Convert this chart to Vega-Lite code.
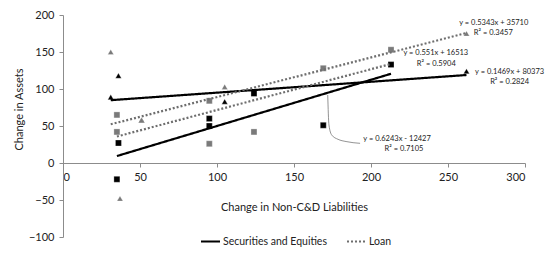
{
  "$schema": "https://vega.github.io/schema/vega-lite/v6.json",
  "width": 462,
  "height": 222,
  "autosize": {"type": "none"},
  "padding": {"left": 63, "top": 15, "right": 23, "bottom": 23},
  "background": "white",
  "config": {
    "view": {"stroke": null},
    "font": "Lato",
    "axis": {"grid": false, "domainColor": "#8c8c8c", "tickColor": "#8c8c8c", "labelColor": "#222", "titleColor": "#222", "labelFont": "Lato", "titleFont": "Lato", "labelFontSize": 11, "titleFontSize": 11, "titleFontWeight": "normal", "tickSize": 4},
    "legend": {"labelFont": "Lato", "labelFontSize": 10.5, "labelColor": "#222"}
  },
  "datasets": {
    "points": [
      {"x": 36, "y": 27, "series": "Securities and Equities", "set": "A"},
      {"x": 35, "y": -22, "series": "Securities and Equities", "set": "A"},
      {"x": 95, "y": 60, "series": "Securities and Equities", "set": "A"},
      {"x": 95, "y": 50, "series": "Securities and Equities", "set": "A"},
      {"x": 124, "y": 94, "series": "Securities and Equities", "set": "A"},
      {"x": 169, "y": 51, "series": "Securities and Equities", "set": "A"},
      {"x": 213, "y": 133, "series": "Securities and Equities", "set": "A"},
      {"x": 36, "y": 118, "series": "Securities and Equities", "set": "B"},
      {"x": 31, "y": 89, "series": "Securities and Equities", "set": "B"},
      {"x": 105, "y": 83, "series": "Securities and Equities", "set": "B"},
      {"x": 262, "y": 124, "series": "Securities and Equities", "set": "B"},
      {"x": 51, "y": 58, "series": "Securities and Equities", "set": "B"},
      {"x": 35, "y": 65, "series": "Loan", "set": "A"},
      {"x": 35, "y": 42, "series": "Loan", "set": "A"},
      {"x": 95, "y": 84, "series": "Loan", "set": "A"},
      {"x": 95, "y": 26, "series": "Loan", "set": "A"},
      {"x": 124, "y": 42, "series": "Loan", "set": "A"},
      {"x": 169, "y": 128, "series": "Loan", "set": "A"},
      {"x": 213, "y": 153, "series": "Loan", "set": "A"},
      {"x": 31, "y": 150, "series": "Loan", "set": "B"},
      {"x": 51, "y": 58, "series": "Loan", "set": "B"},
      {"x": 37, "y": -48, "series": "Loan", "set": "B"},
      {"x": 105, "y": 103, "series": "Loan", "set": "B"},
      {"x": 262, "y": 175, "series": "Loan", "set": "B"}
    ],
    "trends": [
      {"x": 35, "y": 9.4, "type": "Securities and Equities", "id": "SA"},
      {"x": 213, "y": 120.6, "type": "Securities and Equities", "id": "SA"},
      {"x": 31, "y": 84.9, "type": "Securities and Equities", "id": "SB"},
      {"x": 262, "y": 118.9, "type": "Securities and Equities", "id": "SB"},
      {"x": 35, "y": 35.8, "type": "Loan", "id": "LA"},
      {"x": 213, "y": 133.9, "type": "Loan", "id": "LA"},
      {"x": 31, "y": 52.3, "type": "Loan", "id": "LB"},
      {"x": 262, "y": 175.7, "type": "Loan", "id": "LB"}
    ],
    "labels": [
      {"x": 279.7, "y": 189.6, "text": "y = 0.5343x + 35710"},
      {"x": 279.4, "y": 175.3, "text": "R² = 0.3457"},
      {"x": 242.1, "y": 148.2, "text": "y = 0.551x + 16513"},
      {"x": 242.4, "y": 133.8, "text": "R² = 0.5904"},
      {"x": 290, "y": 122.5, "text": "y = 0.1469x + 80373"},
      {"x": 290, "y": 109, "text": "R² = 0.2824"},
      {"x": 216.9, "y": 32, "text": "y = 0.6243x - 12427"},
      {"x": 221.4, "y": 18.9, "text": "R² = 0.7105"}
    ],
    "leader": [
      {"x": 171.9, "y": 91.9, "o": 1},
      {"x": 172.7, "y": 51.4, "o": 2},
      {"x": 174.5, "y": 37.8, "o": 3},
      {"x": 178.6, "y": 32, "o": 4},
      {"x": 183.8, "y": 29, "o": 5},
      {"x": 192.9, "y": 26.6, "o": 6}
    ]
  },
  "encoding": {
    "x": {"field": "x", "type": "quantitative", "scale": {"domain": [0, 300], "nice": false, "zero": false},
      "axis": {"values": [0, 50, 100, 150, 200, 250, 300], "offset": -74, "labelPadding": 4, "labelOverlap": false, "title": "Change in Non-C&D Liabilities", "titlePadding": 19}},
    "y": {"field": "y", "type": "quantitative", "scale": {"domain": [-100, 200], "nice": false, "zero": false},
      "axis": {"values": [-100, -50, 0, 50, 100, 150, 200], "labelPadding": 5, "labelOverlap": false, "title": "Change in Assets", "titleAngle": -90, "titleX": -44, "titleY": 94, "titleAlign": "center", "titleBaseline": "middle"}}
  },
  "layer": [
    {
      "data": {"name": "points"},
      "mark": {"type": "point", "filled": true, "opacity": 1, "size": 36, "stroke": "white", "strokeWidth": 0.3},
      "encoding": {
        "color": {"field": "series", "type": "nominal", "scale": {"domain": ["Securities and Equities", "Loan"], "range": ["#000000", "#7a7a7a"]}, "legend": null},
        "shape": {"field": "set", "type": "nominal", "scale": {"domain": ["A", "B"], "range": ["square", "triangle-up"]}, "legend": null}
      }
    },
    {
      "data": {"name": "trends"},
      "mark": {"type": "line", "strokeWidth": 2.2},
      "encoding": {
        "detail": {"field": "id"},
        "color": {"field": "type", "type": "nominal", "scale": {"domain": ["Securities and Equities", "Loan"], "range": ["#000000", "#6e6e6e"]},
          "legend": {"orient": "none", "direction": "horizontal", "legendX": 137, "legendY": 216, "title": null, "symbolType": "stroke", "symbolSize": 361, "symbolStrokeWidth": 2, "columnPadding": 16, "labelOffset": 2,
            "encode": {"symbols": {"update": {"strokeDash": {"signal": "datum.value === 'Loan' ? [2, 2] : [1, 0]"}}}}}},
        "strokeDash": {"field": "type", "type": "nominal", "scale": {"domain": ["Securities and Equities", "Loan"], "range": [[1, 0], [2, 2]]}, "legend": null}
      }
    },
    {
      "data": {"name": "leader"},
      "mark": {"type": "line", "interpolate": "monotone", "stroke": "#777", "strokeWidth": 0.8},
      "encoding": {
        "order": {"field": "o"}
      }
    },
    {
      "data": {"name": "labels"},
      "mark": {"type": "text", "fontSize": 7.5, "font": "Lato", "color": "#222", "align": "center", "baseline": "middle"},
      "encoding": {
        "text": {"field": "text"}
      }
    }
  ],
  "resolve": {"scale": {"color": "independent"}}
}
